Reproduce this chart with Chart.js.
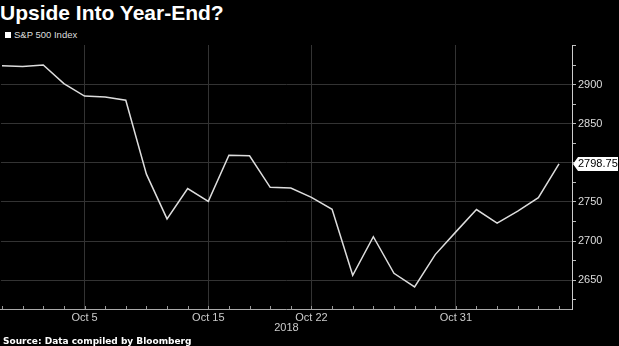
<!DOCTYPE html>
<html>
<head>
<meta charset="utf-8">
<script src="https://cdn.jsdelivr.net/npm/chart.js@4.4.0/dist/chart.umd.min.js"></script>
<style>
  html, body { margin: 0; padding: 0; background: #000; }
  body { width: 619px; height: 346px; position: relative; overflow: hidden; font-family: "Liberation Sans", Arial, sans-serif; }
  #title { position: absolute; left: 0; top: 1px; color: #fff; font: bold 21px "Liberation Sans", Arial, sans-serif; }
  #legend { position: absolute; left: 5px; top: 29px; color: #ddd; font-size: 9.5px; }
  #legend span { display: inline-block; width: 6px; height: 6px; background: #fff; margin-right: 3px; }
  #source { position: absolute; left: 3px; top: 336px; color: #fff; font: bold 9px "DejaVu Sans", sans-serif; }
  canvas { position: absolute; left: 0; top: 0; }
</style>
</head>
<body>
<div id="title">Upside Into Year-End?</div>
<div id="legend"><span></span>S&amp;P 500 Index</div>
<canvas id="spx" width="619" height="346"></canvas>
<div id="source">Source: Data compiled by Bloomberg</div>
<script>
// trading days, Oct 1 - Nov 7 2018
const days = ['Oct 1', 'Oct 2', 'Oct 3', 'Oct 4', 'Oct 5', 'Oct 8', 'Oct 9', 'Oct 10', 'Oct 11', 'Oct 12',
  'Oct 15', 'Oct 16', 'Oct 17', 'Oct 18', 'Oct 19', 'Oct 22', 'Oct 23', 'Oct 24', 'Oct 25', 'Oct 26',
  'Oct 29', 'Oct 30', 'Oct 31', 'Nov 1', 'Nov 2', 'Nov 5', 'Nov 6', 'Nov 7']
const closes = [2924.59, 2923.43, 2925.51, 2901.61, 2885.57, 2884.43, 2880.34, 2785.68, 2728.37, 2767.13,
  2750.79, 2809.92, 2809.21, 2768.78, 2767.78, 2755.88, 2740.69, 2656.10, 2705.57, 2658.69,
  2641.25, 2682.63, 2711.74, 2740.37, 2723.06, 2738.31, 2755.45, 2798.75]
const xTickLabels = ['Oct 5', 'Oct 15', 'Oct 22', 'Oct 31']
const yTicks = [2650, 2700, 2750, 2800, 2850, 2900]

const points = closes.map((v, i) => ({ x: i, y: v }))

// small upward ticks on the date axis, one per trading day
const dayTicks = {
  id: 'dayTicks',
  afterDatasetsDraw(chart) {
    const x = chart.scales.x
    const ctx = chart.ctx
    ctx.save()
    ctx.strokeStyle = '#999'
    ctx.lineWidth = 1
    days.forEach((d, i) => {
      const px = Math.round(x.getPixelForValue(i)) + 0.5
      ctx.beginPath()
      ctx.moveTo(px, x.top)
      ctx.lineTo(px, x.top - 3)
      ctx.stroke()
    })
    ctx.restore()
  }
}

// white value tag for the last close
const lastTag = {
  id: 'lastTag',
  afterDraw(chart) {
    const y = chart.scales.y
    const ctx = chart.ctx
    const last = closes[closes.length - 1]
    const py = y.getPixelForValue(last)
    const left = y.left + 1
    const right = 618
    ctx.save()
    ctx.fillStyle = '#fff'
    ctx.beginPath()
    ctx.moveTo(left, py)
    ctx.lineTo(left + 5, py - 7)
    ctx.lineTo(right, py - 7)
    ctx.lineTo(right, py + 7)
    ctx.lineTo(left + 5, py + 7)
    ctx.closePath()
    ctx.fill()
    ctx.fillStyle = '#000'
    ctx.font = '11px "Liberation Sans", Arial, sans-serif'
    ctx.textBaseline = 'middle'
    ctx.fillText(last.toFixed(2), left + 5, py + 0.5)
    ctx.restore()
  }
}

new Chart(document.getElementById('spx'), {
  type: 'line',
  data: {
    datasets: [{
      label: 'S&P 500 Index',
      data: points,
      borderColor: '#ddd',
      borderWidth: 1.5,
      pointRadius: 0,
      tension: 0
    }]
  },
  options: {
    responsive: false,
    maintainAspectRatio: false,
    animation: false,
    layout: { padding: { top: 45, left: 0, right: 0, bottom: 0 } },
    plugins: {
      legend: { display: false },
      tooltip: { enabled: false }
    },
    scales: {
      x: {
        type: 'linear',
        min: -0.05,
        max: 27.63,
        afterFit: s => { s.height = 37 },
        afterBuildTicks: s => { s.ticks = days.map((d, i) => ({ value: i })) },
        ticks: {
          autoSkip: false,
          maxRotation: 0,
          padding: 2,
          color: '#ccc',
          font: { family: '"Liberation Sans", Arial, sans-serif', size: 11 },
          callback: v => xTickLabels.includes(days[v]) ? days[v] : ''
        },
        grid: {
          drawTicks: false,
          color: c => (c.tick && xTickLabels.includes(days[c.tick.value])) ? '#333' : 'transparent'
        },
        border: { color: '#aaa' },
        title: {
          display: true,
          text: '2018',
          color: '#ccc',
          padding: { top: 0, bottom: 11 },
          font: { family: '"Liberation Sans", Arial, sans-serif', size: 11 }
        }
      },
      y: {
        position: 'right',
        min: 2613,
        max: 2951,
        afterFit: s => { s.width = 47 },
        afterBuildTicks: s => {
          const t = []
          for (let v = 2625; v <= 2950; v += 25) t.push({ value: v })
          s.ticks = t
        },
        ticks: {
          autoSkip: false,
          padding: 2,
          color: '#ddd',
          font: { family: '"Liberation Sans", Arial, sans-serif', size: 11 },
          callback: v => yTicks.includes(v) ? v : ''
        },
        grid: {
          tickLength: 4,
          color: c => (c.tick && yTicks.includes(c.tick.value)) ? '#333' : 'transparent',
          tickColor: '#bbb'
        },
        border: { color: '#ccc' }
      }
    }
  },
  plugins: [dayTicks, lastTag]
})
</script>
</body>
</html>
